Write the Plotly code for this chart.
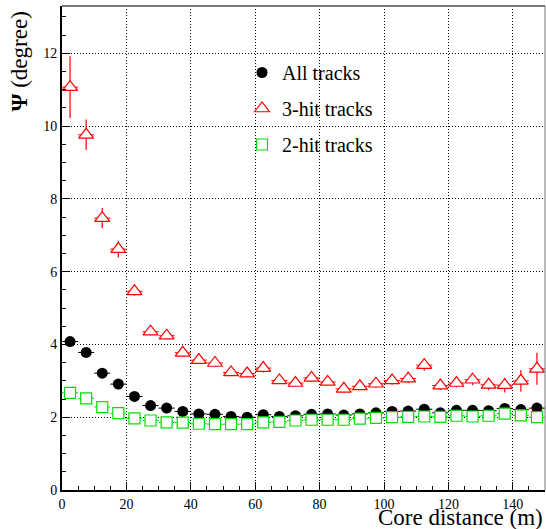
import plotly.graph_objects as go

core_distance = [2.5, 7.5, 12.5, 17.5, 22.5, 27.5, 32.5, 37.5, 42.5, 47.5,
                 52.5, 57.5, 62.5, 67.5, 72.5, 77.5, 82.5, 87.5, 92.5, 97.5,
                 102.5, 107.5, 112.5, 117.5, 122.5, 127.5, 132.5, 137.5, 142.5, 147.5]
bin_half_width = [2.5] * 30

all_tracks = [4.08, 3.78, 3.21, 2.91, 2.57, 2.32, 2.25, 2.16, 2.09, 2.08,
              2.02, 2.00, 2.07, 2.02, 2.04, 2.08, 2.09, 2.06, 2.09, 2.12,
              2.16, 2.17, 2.22, 2.12, 2.19, 2.19, 2.18, 2.24, 2.21, 2.25]

hit3_tracks = [11.07, 9.76, 7.47, 6.62, 5.46, 4.35, 4.24, 3.77, 3.57, 3.49,
               3.23, 3.20, 3.35, 3.01, 2.94, 3.08, 2.97, 2.78, 2.85, 2.92,
               3.01, 3.06, 3.43, 2.87, 2.94, 3.03, 2.89, 2.88, 3.00, 3.33]
hit3_err = [0.85, 0.42, 0.28, 0.23, 0.12, 0.10, 0.10, 0.10, 0.10, 0.10,
            0.10, 0.10, 0.12, 0.10, 0.10, 0.10, 0.10, 0.10, 0.10, 0.12,
            0.12, 0.12, 0.15, 0.12, 0.12, 0.15, 0.15, 0.20, 0.30, 0.44]

hit2_tracks = [2.67, 2.52, 2.28, 2.11, 1.97, 1.91, 1.86, 1.85, 1.82, 1.81,
               1.81, 1.81, 1.86, 1.87, 1.91, 1.93, 1.93, 1.93, 1.96, 1.98,
               2.00, 2.01, 2.02, 2.01, 2.04, 2.02, 2.04, 2.10, 2.05, 2.00]

x_ticks = [0, 20, 40, 60, 80, 100, 120, 140]
y_ticks = [0, 2, 4, 6, 8, 10, 12]

FONT = "Liberation Serif"
RED = "#ff0000"
GREEN = "#00e000"

fig = go.Figure()

fig.add_trace(go.Scatter(
    x=core_distance, y=all_tracks, mode="markers", name="All tracks",
    legendgroup="a",
    marker=dict(symbol="circle", size=11, color="black"),
    error_x=dict(type="data", array=bin_half_width, color="black", thickness=1, width=0),
))
fig.add_trace(go.Scatter(
    x=core_distance, y=hit3_tracks, mode="markers", name="3-hit tracks",
    legendgroup="b",
    marker=dict(symbol="triangle-up", size=13, color="white",
                line=dict(color=RED, width=1.2)),
    error_x=dict(type="data", array=bin_half_width, color=RED, thickness=1, width=0),
    error_y=dict(type="data", array=hit3_err, color=RED, thickness=1.2, width=0),
))
fig.add_trace(go.Scatter(
    x=core_distance, y=hit2_tracks, mode="markers", name="2-hit tracks",
    legendgroup="c",
    marker=dict(symbol="square", size=11, color="white",
                line=dict(color=GREEN, width=1.2)),
    error_x=dict(type="data", array=bin_half_width, color=GREEN, thickness=1, width=0),
))

axis_common = dict(
    showline=True, linecolor="black", linewidth=2,
    ticks="inside", ticklen=8, tickcolor="black", tickwidth=1,
    showgrid=True, gridcolor="black", griddash="1px,2px", gridwidth=1,
    zeroline=False,
    tickfont=dict(family=FONT, size=14, color="black"),
)

fig.update_xaxes(
    range=[0, 150], tickvals=x_ticks,
    minor=dict(ticks="inside", ticklen=4, dtick=5, tick0=0, tickcolor="black", showgrid=False),
    **axis_common,
)
fig.update_yaxes(
    range=[0, 13.3], tickvals=y_ticks,
    minor=dict(ticks="inside", ticklen=4, dtick=0.5, tick0=0, tickcolor="black", showgrid=False),
    **axis_common,
)

fig.add_shape(type="line", xref="paper", yref="paper", x0=0, x1=1, y0=1, y1=1,
              line=dict(color="#777777", width=2))
fig.add_shape(type="line", xref="paper", yref="paper", x0=1, x1=1, y0=0, y1=1,
              line=dict(color="#777777", width=1))

fig.add_annotation(text="Core distance (m)", xref="paper", yref="paper",
                   x=1.0, y=0, xanchor="right", yanchor="top", yshift=-13,
                   showarrow=False, font=dict(family=FONT, size=23, color="black"))
fig.add_annotation(text="<b>Ψ</b> (degree)", xref="paper", yref="paper",
                   x=0, y=1, xanchor="right", yanchor="top", xshift=-29, yshift=-4,
                   textangle=-90, showarrow=False,
                   font=dict(family=FONT, size=23, color="black"))

fig.update_layout(
    width=546, height=529,
    margin=dict(l=62, r=1, t=6, b=39),
    paper_bgcolor="white", plot_bgcolor="white",
    font=dict(family=FONT, color="black"),
    showlegend=True,
    legend=dict(x=(242 - 62) / 483, y=(490 - 53) / 484, xanchor="left", yanchor="top",
                bgcolor="rgba(0,0,0,0)", borderwidth=0, traceorder="grouped",
                tracegroupgap=7,
                font=dict(family=FONT, size=20, color="black")),
)

fig.write_html("out.html")
